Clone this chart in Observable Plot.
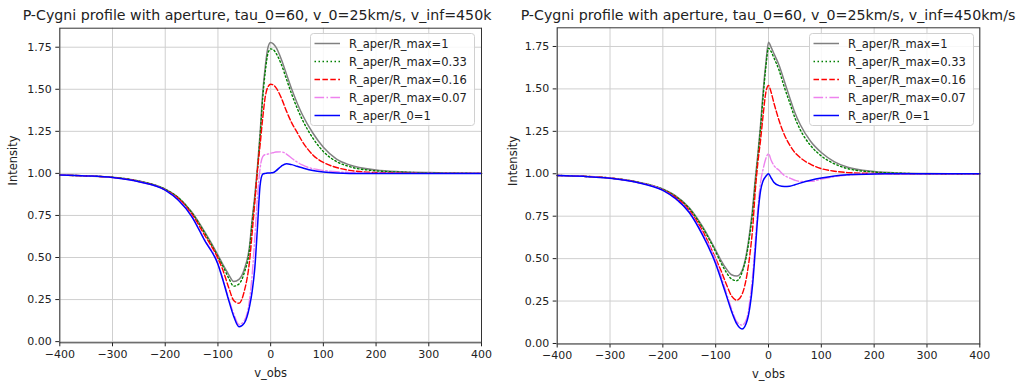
<!DOCTYPE html>
<html><head><meta charset="utf-8">
<script src="https://cdn.jsdelivr.net/npm/d3@7"></script>
<script src="https://cdn.jsdelivr.net/npm/@observablehq/plot@0.6"></script>
<style>
body{margin:0;background:#fff;font-family:"DejaVu Sans",sans-serif;}
#wrap{position:relative;width:1022px;height:385px;overflow:hidden;background:#fff;}
.panel{position:absolute;top:0;}
.title{position:absolute;top:5px;height:21px;line-height:21px;font-size:14.2px;color:#222;white-space:nowrap;overflow:hidden;}
.title span{position:absolute;top:0;text-align:center;}
.legend{position:absolute;}
</style></head><body><div id="wrap"></div>
<script>
// ---- data ----
const titleText = "P-Cygni profile with aperture, tau_0=60, v_0=25km/s, v_inf=450km/s";
const xLabel = "v_obs";
const yLabel = "Intensity";
const xTicks = [-400, -300, -200, -100, 0, 100, 200, 300, 400];
const yTicks = [0, 0.25, 0.5, 0.75, 1.0, 1.25, 1.5, 1.75];
const seriesNames = ["R_aper/R_max=1", "R_aper/R_max=0.33", "R_aper/R_max=0.16", "R_aper/R_max=0.07", "R_aper/R_0=1"];

const velocities = [-400,-350,-300,-250,-200,-175,-150,-125,-100,-90,-80,-70,-60,-50,-40,-35,-30,-25,-20,-15,-10,-5,0,5,10,20,30,40,50,60,80,100,125,150,200,250,300,400];

// left panel
const leftMax1   = [0.990,0.985,0.977,0.955,0.907,0.857,0.772,0.652,0.515,0.455,0.400,0.357,0.370,0.430,0.570,0.730,0.870,1.040,1.240,1.480,1.640,1.750,1.778,1.770,1.750,1.680,1.590,1.500,1.420,1.350,1.240,1.155,1.085,1.050,1.020,1.010,1.005,1.001];
const leftMax033 = [0.990,0.985,0.977,0.954,0.905,0.855,0.768,0.645,0.505,0.445,0.380,0.330,0.343,0.410,0.550,0.710,0.850,1.020,1.220,1.450,1.610,1.715,1.740,1.735,1.715,1.650,1.560,1.470,1.390,1.320,1.210,1.130,1.070,1.040,1.015,1.007,1.003,1.000];
const leftMax016 = [0.990,0.985,0.976,0.952,0.902,0.850,0.760,0.632,0.495,0.420,0.325,0.245,0.228,0.300,0.480,0.650,0.830,1.020,1.170,1.330,1.460,1.515,1.530,1.525,1.510,1.450,1.370,1.300,1.245,1.190,1.110,1.065,1.035,1.018,1.005,1.002,1.000,1.000];
const leftMax007 = [0.990,0.985,0.975,0.950,0.900,0.842,0.748,0.605,0.465,0.365,0.260,0.165,0.102,0.125,0.250,0.400,0.620,0.860,1.030,1.100,1.112,1.115,1.120,1.123,1.127,1.128,1.115,1.090,1.068,1.050,1.028,1.018,1.010,1.005,1.001,1.000,1.000,1.000];
const leftR0     = [0.990,0.985,0.975,0.950,0.900,0.840,0.745,0.600,0.460,0.360,0.250,0.150,0.088,0.110,0.210,0.300,0.440,0.680,0.930,0.995,1.000,1.002,1.003,1.005,1.015,1.042,1.058,1.052,1.042,1.033,1.017,1.008,1.002,1.000,1.000,1.000,1.000,1.000];

// right panel
const rightMax1   = [0.990,0.985,0.975,0.953,0.910,0.868,0.800,0.690,0.550,0.490,0.440,0.405,0.397,0.430,0.560,0.670,0.800,0.970,1.120,1.290,1.490,1.650,1.775,1.745,1.710,1.640,1.545,1.450,1.360,1.290,1.190,1.125,1.070,1.038,1.013,1.004,1.001,1.000];
const rightMax033 = [0.990,0.985,0.975,0.952,0.908,0.865,0.795,0.683,0.540,0.475,0.420,0.380,0.370,0.420,0.545,0.650,0.775,0.945,1.100,1.270,1.460,1.630,1.740,1.720,1.685,1.610,1.510,1.420,1.330,1.260,1.165,1.105,1.058,1.030,1.010,1.003,1.000,1.000];
const rightMax016 = [0.990,0.985,0.975,0.951,0.905,0.860,0.785,0.665,0.500,0.430,0.350,0.280,0.255,0.290,0.420,0.530,0.680,0.900,1.070,1.200,1.350,1.480,1.520,1.480,1.420,1.314,1.230,1.170,1.125,1.095,1.055,1.030,1.015,1.007,1.002,1.000,1.000,1.000];
const rightMax007 = [0.990,0.985,0.974,0.950,0.903,0.850,0.775,0.650,0.490,0.400,0.300,0.205,0.128,0.108,0.160,0.260,0.400,0.600,0.800,0.950,1.030,1.090,1.118,1.080,1.050,1.020,0.990,0.975,0.962,0.955,0.955,0.968,0.983,0.992,0.999,1.000,1.000,1.000];
const rightR0     = [0.990,0.985,0.974,0.950,0.902,0.852,0.772,0.640,0.470,0.380,0.285,0.190,0.115,0.085,0.140,0.220,0.350,0.550,0.760,0.900,0.960,0.985,1.000,0.975,0.950,0.930,0.925,0.927,0.935,0.945,0.962,0.975,0.987,0.994,0.999,1.000,1.000,1.000];

// ---- styles ----
const lineStyles = [
  {stroke: "#808080", strokeWidth: 1.5, dash: null},
  {stroke: "#008000", strokeWidth: 1.4, dash: "1.5,2.5"},
  {stroke: "#ff0000", strokeWidth: 1.4, dash: "5.5,2.4"},
  {stroke: "#ee82ee", strokeWidth: 1.4, dash: "9.6,2.4,1.5,2.4"},
  {stroke: "#0000ff", strokeWidth: 1.5, dash: null}
];

const wrap = document.getElementById("wrap");
const fmtX = d => d < 0 ? "\u2212" + Math.abs(d) : String(d);

function tidy(vals) { return velocities.map((v, i) => ({v, I: vals[i]})); }

function panel(cfg) {
  const lines = cfg.series.map((vals, i) => Plot.line(tidy(vals), {
    x: "v", y: "I", stroke: lineStyles[i].stroke, strokeWidth: lineStyles[i].strokeWidth,
    strokeDasharray: lineStyles[i].dash || undefined, curve: "monotone-x"
  }));
  const svg = Plot.plot({
    width: cfg.width, height: 385,
    marginLeft: cfg.ml, marginRight: cfg.mr, marginTop: cfg.mt, marginBottom: cfg.mb,
    style: {fontFamily: "DejaVu Sans", fontSize: "11px", color: "#222", background: "transparent"},
    x: {domain: [-400, 400], ticks: xTicks, tickFormat: fmtX, tickSize: 4, tickPadding: 3, label: null},
    y: {domain: cfg.yDomain, ticks: yTicks, tickFormat: d => d.toFixed(2), tickSize: 4, tickPadding: 4, label: null},
    marks: [
      Plot.gridX(xTicks, {stroke: "#cfcfcf", strokeOpacity: 1, strokeWidth: 1}),
      Plot.gridY(yTicks, {stroke: "#cfcfcf", strokeOpacity: 1, strokeWidth: 1}),
      ...lines,
      Plot.frame({stroke: "#333", strokeWidth: 1}),
      Plot.text([xLabel], {text: d => d, frameAnchor: "bottom", dy: 30.5, lineAnchor: "middle", fontSize: 11.5, fill: "#222"}),
      Plot.text([yLabel], {text: d => d, frameAnchor: "left", rotate: -90, dx: cfg.ylabDx, lineAnchor: "middle", fontSize: 11.5, fill: "#222"})
    ]
  });
  svg.classList.add("panel");
  svg.style.left = cfg.left + "px";
  wrap.appendChild(svg);

  // title
  const t = document.createElement("div");
  t.className = "title";
  t.style.left = cfg.titleLeft + "px";
  t.style.width = cfg.titleWidth + "px";
  const s = document.createElement("span");
  s.style.left = "0px";
  s.style.width = cfg.titleSpan + "px";
  s.textContent = titleText;
  t.appendChild(s);
  wrap.appendChild(t);

  // legend
  const lw = 165, lh = 93;
  const lg = d3.create("svg").attr("class", "legend").attr("width", lw).attr("height", lh)
    .style("left", cfg.legLeft + "px").style("top", "33px");
  lg.append("rect").attr("x", 0.5).attr("y", 0.5).attr("width", lw - 1).attr("height", lh - 1)
    .attr("rx", 3).attr("fill", "white").attr("fill-opacity", 0.85).attr("stroke", "#d0d0d0");
  seriesNames.forEach((name, i) => {
    const y = 10.5 + i * 18;
    lg.append("line").attr("x1", 4.5).attr("x2", 30).attr("y1", y).attr("y2", y)
      .attr("stroke", lineStyles[i].stroke).attr("stroke-width", lineStyles[i].strokeWidth)
      .attr("stroke-dasharray", lineStyles[i].dash);
    lg.append("text").attr("x", 39).attr("y", y).attr("dy", "0.35em")
      .attr("font-family", "DejaVu Sans").attr("font-size", 11.5).attr("fill", "#222").text(name);
  });
  wrap.appendChild(lg.node());
}

panel({
  left: 0, width: 492, ml: 59.3, mr: 11, mt: 27.7, mb: 42.7, yDomain: [-0.007, 1.863], ylabDx: -46,
  series: [leftMax1, leftMax033, leftMax016, leftMax007, leftR0],
  titleLeft: 0, titleWidth: 492, titleSpan: 540, legLeft: 310
});
panel({
  left: 492, width: 530, ml: 64.7, mr: 42.7, mt: 27.3, mb: 41.5, yDomain: [-0.003, 1.86], ylabDx: -43.7,
  series: [rightMax1, rightMax033, rightMax016, rightMax007, rightR0],
  titleLeft: 492, titleWidth: 530, titleSpan: 552, legLeft: 809
});
</script></body></html>
